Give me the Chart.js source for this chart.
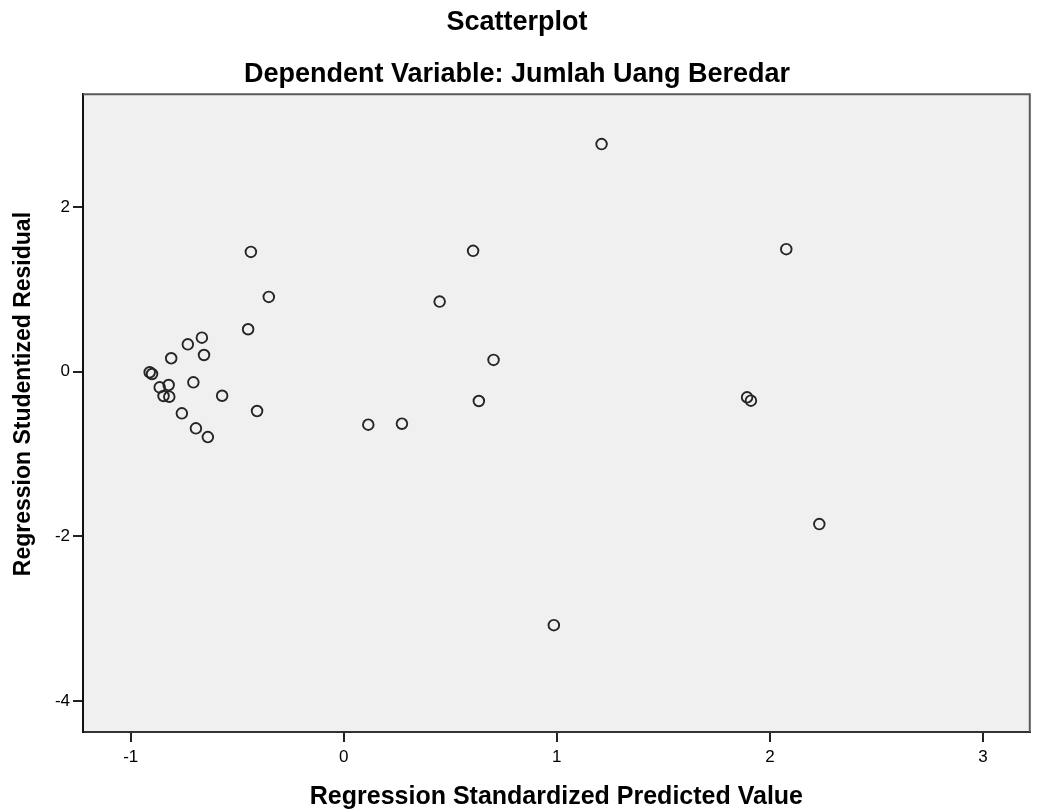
<!DOCTYPE html>
<html>
<head>
<meta charset="utf-8">
<title>Scatterplot</title>
<script src="https://cdn.jsdelivr.net/npm/chart.js@4.4.0/dist/chart.umd.min.js"></script>
<style>
  html, body { margin: 0; padding: 0; background: #fff; }
  #wrap { width: 1037px; height: 812px; }
</style>
</head>
<body>
<div id="wrap"><canvas id="scatterChart" width="1037" height="812"></canvas></div>
<script>
// Regression Standardized Predicted Value (x) / Regression Studentized Residual (y)
const predictedValues = [
  1.210, -0.436, 0.607, 2.077, -0.352, 0.450, -0.449, -0.666, -0.732, -0.656,
  -0.810, 0.703, -0.911, -0.900, -0.706, -0.822, -0.864, -0.846, -0.819, -0.571,
  1.893, 1.911, 0.634, -0.760, -0.407, -0.694, -0.638, 0.115, 0.273, 2.232,
  0.986
];
const studentizedResiduals = [
  2.767, 1.457, 1.470, 1.490, 0.910, 0.853, 0.517, 0.415, 0.334, 0.204,
  0.164, 0.144, -0.006, -0.027, -0.128, -0.161, -0.189, -0.294, -0.303, -0.291,
  -0.310, -0.351, -0.355, -0.505, -0.477, -0.687, -0.793, -0.643, -0.631, -1.851,
  -3.079
];
const xTickValues = [-1, 0, 1, 2, 3];
const yTickValues = [-4, -2, 0, 2];

const FONT = '"Liberation Sans", Arial, sans-serif';
const Y_TITLE = 'Regression Studentized Residual';

// grey plot background, lighter top/right frame lines, and the y title
// (SPSS puts the y title a bit above the middle of the axis)
const plotFrame = {
  id: 'plotFrame',
  beforeDraw(chart) {
    const { ctx, chartArea: a } = chart;
    ctx.save();
    ctx.fillStyle = '#f0f0f0';
    ctx.fillRect(a.left, a.top, a.right - a.left, a.bottom - a.top);
    ctx.restore();
  },
  afterDraw(chart) {
    const { ctx, chartArea: a } = chart;
    ctx.save();
    ctx.strokeStyle = '#5a5a5a';
    ctx.lineWidth = 2;
    ctx.beginPath();
    ctx.moveTo(a.left, a.top);
    ctx.lineTo(a.right, a.top);
    ctx.lineTo(a.right, a.bottom);
    ctx.stroke();

    ctx.translate(23.5, (a.top + a.bottom) / 2 - 19);
    ctx.rotate(-Math.PI / 2);
    ctx.fillStyle = '#000';
    ctx.font = 'bold 23px ' + FONT;
    ctx.textAlign = 'center';
    ctx.textBaseline = 'middle';
    ctx.fillText(Y_TITLE, 0, 0);
    ctx.restore();
  }
};

const points = predictedValues.map((x, i) => ({ x: x, y: studentizedResiduals[i] }));

new Chart(document.getElementById('scatterChart'), {
  type: 'scatter',
  data: {
    datasets: [{
      data: points,
      pointStyle: 'circle',
      pointRadius: 5.3,
      pointHoverRadius: 5.3,
      pointBorderWidth: 1.9,
      pointBorderColor: '#262626',
      pointBackgroundColor: 'rgba(0,0,0,0)'
    }]
  },
  options: {
    responsive: false,
    animation: false,
    devicePixelRatio: 1,
    layout: { padding: { left: 0, right: 3, top: 0, bottom: 0 } },
    plugins: {
      legend: { display: false },
      tooltip: { enabled: false },
      title: {
        display: true,
        text: 'Scatterplot',
        color: '#000',
        font: { family: FONT, size: 27, weight: 'bold' },
        padding: { top: 6, bottom: 10 }
      },
      subtitle: {
        display: true,
        text: 'Dependent Variable: Jumlah Uang Beredar',
        color: '#000',
        font: { family: FONT, size: 27, weight: 'bold' },
        padding: { top: 9.6, bottom: 3.8 }
      }
    },
    scales: {
      x: {
        type: 'linear',
        min: -1.224,
        max: 3.22,
        afterBuildTicks: (scale) => { scale.ticks = xTickValues.map(v => ({ value: v })); },
        afterFit: (scale) => { scale.height = 80; },
        grid: { display: true, drawOnChartArea: false, drawTicks: true, tickLength: 10, color: '#222', lineWidth: 2 },
        border: { display: true, color: '#333', width: 2 },
        ticks: { color: '#000', padding: 5, font: { family: FONT, size: 17 } },
        title: {
          display: true,
          text: 'Regression Standardized Predicted Value',
          color: '#000',
          font: { family: FONT, size: 25, weight: 'bold' },
          padding: { top: 0, bottom: 0 }
        }
      },
      y: {
        type: 'linear',
        min: -4.377,
        max: 3.373,
        afterBuildTicks: (scale) => { scale.ticks = yTickValues.map(v => ({ value: v })); },
        afterFit: (scale) => { scale.width = 83; },
        grid: { display: true, drawOnChartArea: false, drawTicks: true, tickLength: 10, color: '#222', lineWidth: 2 },
        border: { display: true, color: '#111', width: 2 },
        ticks: { color: '#000', padding: 3, font: { family: FONT, size: 17 } },
        title: { display: false }
      }
    }
  },
  plugins: [plotFrame]
});
</script>
</body>
</html>
